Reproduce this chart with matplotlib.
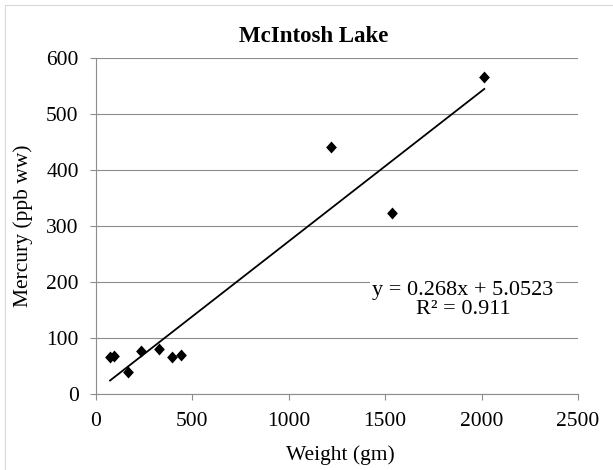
import matplotlib.pyplot as plt
from matplotlib.lines import Line2D

# Fish samples: body weight against tissue mercury.
weight_gm = [73, 93, 168, 233, 327, 396, 441, 1217, 1534, 2014]
mercury_ppb = [66, 68, 40, 78, 80, 67, 71, 441, 324, 566]

# Linear trend as reported on the chart.
slope = 0.268
intercept = 5.0523
r_squared = 0.911

x_ticks = [0, 500, 1000, 1500, 2000, 2500]
y_ticks = [0, 100, 200, 300, 400, 500, 600]

GRID = '#8c8c8c'

plt.rcParams['font.family'] = ['Liberation Serif', 'DejaVu Serif']
plt.rcParams['font.size'] = 15.5

fig = plt.figure(figsize=(6.13, 4.70), dpi=100)
ax = fig.add_axes([96 / 613, 1 - 394.3 / 470, 482 / 613, 336.3 / 470])

# Light frame around the chart area (top and left edges).
fig.add_artist(Line2D([5 / 613, 5 / 613], [0, 1 - 5 / 470], transform=fig.transFigure,
                      color='#d9d9d9', lw=0.8))
fig.add_artist(Line2D([5 / 613, 1], [1 - 5 / 470, 1 - 5 / 470], transform=fig.transFigure,
                      color='#d9d9d9', lw=0.8))

ax.set_xlim(x_ticks[0], x_ticks[-1])
ax.set_ylim(y_ticks[0], y_ticks[-1])
ax.set_xticks(x_ticks)
ax.set_yticks(y_ticks)
ax.yaxis.grid(True, color=GRID, lw=0.8)
ax.set_axisbelow(True)

for side in ('top', 'right'):
    ax.spines[side].set_visible(False)
for side in ('left', 'bottom'):
    ax.spines[side].set_color(GRID)
    ax.spines[side].set_linewidth(0.8)
ax.tick_params(direction='out', length=4.5, width=0.8, color=GRID,
               labelsize=15.5, labelcolor='black', pad=8)

diamond = [(-0.45, 0), (0, 0.5), (0.45, 0), (0, -0.5)]
ax.plot(weight_gm, mercury_ppb, linestyle='none', marker=diamond,
        markersize=8.6, color='black', markeredgewidth=0, zorder=3)

x0, x1 = min(weight_gm), max(weight_gm)
ax.plot([x0, x1], [slope * x0 + intercept, slope * x1 + intercept],
        color='black', lw=1.3, zorder=3)

ax.text(1904, 168, f'y = {slope}x + {intercept}\nR\u00b2 = {r_squared}',
        ha='center', va='center', multialignment='center', linespacing=0.95,
        fontsize=16, bbox=dict(facecolor='white', edgecolor='none', pad=2), zorder=4)

ax.set_xlabel('Weight (gm)', fontsize=15.5)
ax.set_ylabel('Mercury (ppb ww)', fontsize=15.5)
ax.xaxis.label.set_va('center')
ax.yaxis.label.set_va('center')
ax.xaxis.set_label_coords((340 - 96) / 482, (394.3 - 455) / 336.3)
ax.yaxis.set_label_coords((23 - 96) / 482, 0.5)

fig.text(314 / 613, 1 - 36 / 470, 'McIntosh Lake', ha='center', va='center',
         fontsize=16.5, fontweight='bold')

fig.savefig('out.png', dpi=100)
